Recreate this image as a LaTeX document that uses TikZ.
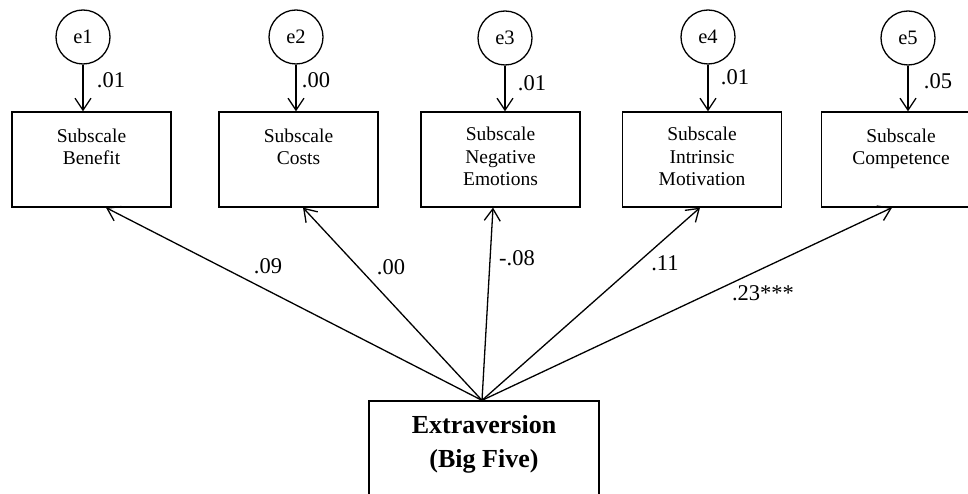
\documentclass[tikz,border=0pt]{standalone}
\usepackage{fontspec}
\setmainfont{Liberation Serif}
\usetikzlibrary{arrows.meta}
\begin{document}
\begin{tikzpicture}[x=1pt,y=-1pt,
  lw/.style={line width=1.3pt},
  errc/.style={draw,circle,lw,minimum size=54pt,inner sep=0pt,font=\fontsize{20.5}{24}\selectfont},
  subbox/.style={draw,lw,minimum width=159pt,minimum height=95pt,inner sep=0pt},
  subtxt/.style={align=center,inner sep=0pt,anchor=north,font=\fontsize{19.5}{22.5}\selectfont},
  coef/.style={inner sep=0pt,font=\fontsize{22.5}{26}\selectfont},
  arr/.style={lw,-{Straight Barb[length=12pt,width=16pt]}}
]
\useasboundingbox (0,0) rectangle (968,494);
% subscale boxes
\node[subbox] (b1) at (91.5,159.5) {};
\node[subbox] (b2) at (298.5,159.5) {};
\node[subbox] (b3) at (500.5,159.5) {};
\node[subbox] (b4) at (702,159.5) {};
\node[subbox] (b5) at (901,159.5) {};
\node[subtxt] (t1) at (91.5,128.5) {Subscale\\Benefit};
\node[subtxt] (t2) at (298.5,128.5) {Subscale\\Costs};
\node[subtxt] (t3) at (500.5,127) {Subscale\\Negative\\Emotions};
\node[subtxt] (t4) at (702,127) {Subscale\\Intrinsic\\Motivation};
\node[subtxt] (t5) at (901,128.5) {Subscale\\Competence};
% error terms
\node[errc] (e1) at (83,37) {e1};
\node[errc] (e2) at (296,37) {e2};
\node[errc] (e3) at (505,38) {e3};
\node[errc] (e4) at (708,37) {e4};
\node[errc] (e5) at (908,38) {e5};
\draw[arr] (e1) -- (e1 |- b1.north);
\draw[arr] (e2) -- (e2 |- b2.north);
\draw[arr] (e3) -- (e3 |- b3.north);
\draw[arr] (e4) -- (e4 |- b4.north);
\draw[arr] (e5) -- (e5 |- b5.north);
\node[coef] (r1) at (111,80) {.01};
\node[coef] (r2) at (316,80) {.00};
\node[coef] (r3) at (532,83) {.01};
\node[coef] (r4) at (735,77) {.01};
\node[coef] (r5) at (938,81) {.05};
% predictor
\node[draw,lw,minimum width=230pt,minimum height=140pt,inner sep=0pt] (ex) at (484,471) {};
\node[align=center,inner sep=0pt,anchor=north,font=\fontsize{26}{34}\selectfont\bfseries] (ext) at (484,415) {Extraversion\\(Big Five)};
\coordinate (src) at ([xshift=-2pt]ex.north);
\draw[arr] (src) -- ([xshift=14.5pt]b1.south);
\draw[arr] (src) -- ([xshift=4.5pt]b2.south);
\draw[arr] (src) -- ([xshift=-7.5pt]b3.south);
\draw[arr] (src) -- ([xshift=-2pt]b4.south);
\draw[arr] (src) -- ([xshift=-9pt]b5.south);
\node[coef] (p1) at (268,266) {.09};
\node[coef] (p2) at (391,267) {.00};
\node[coef] (p3) at (517,258) {-.08};
\node[coef] (p4) at (665,263) {.11};
\node[coef] (p5) at (763,293) {.23***};
\end{tikzpicture}
\end{document}
